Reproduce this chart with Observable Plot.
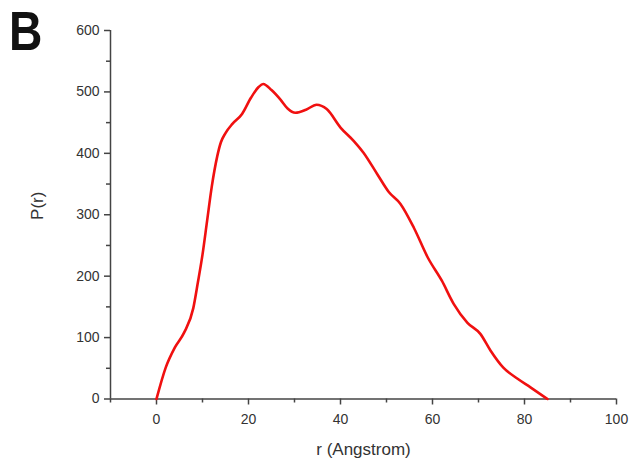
<!DOCTYPE html>
<html>
<head>
<meta charset="utf-8">
<script src="https://cdn.jsdelivr.net/npm/d3@7"></script>
<script src="https://cdn.jsdelivr.net/npm/@observablehq/plot@0.6"></script>
<style>
  html, body { margin: 0; padding: 0; background: #fff; }
  #wrap { position: relative; width: 633px; height: 460px; font-family: "Liberation Sans", Arial, sans-serif; }
  #panel { position: absolute; left: 9px; top: -1px; font-size: 55px; font-weight: bold; color: #111; transform: scaleX(0.84); transform-origin: left top; }
</style>
</head>
<body>
<div id="wrap"><div id="panel">B</div></div>
<script>
const rValues = [0, 2, 4, 6, 8, 9, 10, 11, 12, 13.2, 14, 15, 16.5, 18.6, 20.5, 22.2, 23.2, 25, 27, 28.5, 30.2, 32.5, 34.8, 37, 40, 42.9, 45, 48, 50.5, 53, 56, 59, 62, 64.6, 67.6, 70.4, 72.6, 75.4, 78.5, 81.3, 85];
const pValues = [0, 51, 84, 108, 148, 190, 235, 290, 345, 395, 418, 433, 448, 464, 490, 508, 513, 503, 487, 473, 466, 471, 479, 472, 442, 420, 401, 366, 337, 318, 278, 230, 193, 155, 124, 106, 79, 51, 33, 19, 0];
const xMajorTicks = [0, 20, 40, 60, 80, 100];
const xMinorTicks = [-10, 10, 30, 50, 70, 90];
const yMajorTicks = [0, 100, 200, 300, 400, 500, 600];
const yMinorTicks = [50, 150, 250, 350, 450, 550];
const xLabel = "r (Angstrom)";
const yLabel = "P(r)";

const data = rValues.map((r, i) => ({r, p: pValues[i]}));
const axisColor = "#444";

const chart = Plot.plot({
  width: 633,
  height: 460,
  marginLeft: 110,
  marginRight: 17,
  marginTop: 30,
  marginBottom: 61.5,
  style: {fontFamily: "'Liberation Sans', Arial, sans-serif", fontSize: "14px", color: "#333", background: "transparent"},
  x: {domain: [-10, 100]},
  y: {domain: [0, 600]},
  marks: [
    Plot.axisX({ticks: xMajorTicks, tickSize: 6, tickPadding: 9, stroke: axisColor, strokeWidth: 1.5, label: null, fontSize: 14}),
    Plot.axisX({ticks: xMinorTicks, tickSize: 4, stroke: axisColor, strokeWidth: 1.5, tickFormat: () => "", label: null}),
    Plot.axisY({ticks: yMajorTicks, tickSize: 6, tickPadding: 5, stroke: axisColor, strokeWidth: 1.5, label: null, fontSize: 14}),
    Plot.axisY({ticks: yMinorTicks, tickSize: 4, stroke: axisColor, strokeWidth: 1.5, tickFormat: () => "", label: null}),
    Plot.ruleX([-10], {stroke: axisColor, strokeWidth: 1.5}),
    Plot.ruleY([0], {stroke: axisColor, strokeWidth: 1.5}),
    Plot.text([xLabel], {frameAnchor: "bottom", textAnchor: "middle", lineAnchor: "middle", dy: 51, fontSize: 17, fill: "#333"}),
    Plot.text([yLabel], {frameAnchor: "left", textAnchor: "middle", lineAnchor: "middle", rotate: -90, dx: -73, dy: -9, fontSize: 17, fill: "#333"}),
    Plot.line(data, {x: "r", y: "p", stroke: "#f01010", strokeWidth: 2.6, curve: "monotone-x"})
  ]
});
chart.style.position = "absolute";
chart.style.left = "0px";
chart.style.top = "0px";
document.getElementById("wrap").appendChild(chart);
</script>
</body>
</html>
